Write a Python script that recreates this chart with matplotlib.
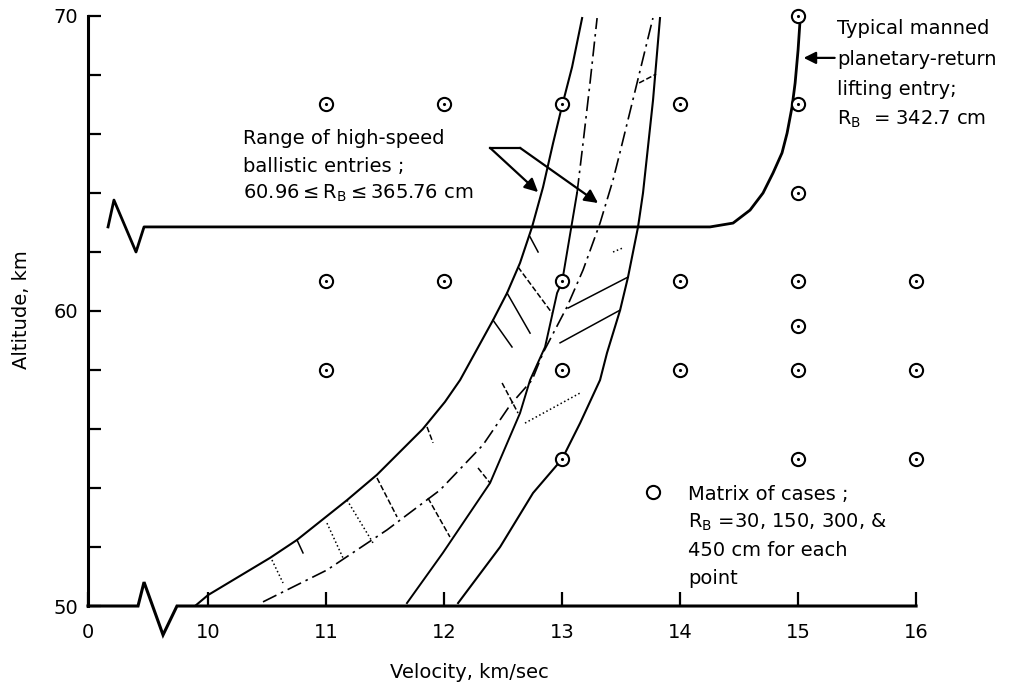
import numpy as np
import matplotlib.pyplot as plt

# ---- values: velocity in km/sec, altitude in km ----

# matrix of computed cases
case_v = [11, 11, 11, 12, 12, 13, 13, 13, 13, 14, 14, 14,
          15, 15, 15, 15, 15, 15, 15, 16, 16, 16]
case_alt = [67, 61, 58, 67, 61, 67, 61, 58, 55, 67, 61, 58,
            70, 67, 64, 61, 59.5, 58, 55, 61, 58, 55]

# ballistic entries, left solid boundary
left_v = [9.89, 10.0, 10.525, 10.754, 11.178, 11.432, 11.82, 12.008, 12.136,
          12.415, 12.534, 12.644, 12.746, 12.839, 12.924, 13.0, 13.085, 13.17]
left_alt = [50.0, 50.37, 51.63, 52.24, 53.59, 54.45, 56.0, 56.92, 57.66,
            59.69, 60.61, 61.63, 62.85, 64.2, 65.69, 66.95, 68.27, 69.93]

# middle boundary (through 13 km/sec, 61 km)
mid_v = [11.686, 11.99, 12.39, 12.644, 12.729, 12.856, 12.958, 13.0,
         13.127, 13.178, 13.237, 13.297]
mid_alt = [50.1, 51.8, 54.17, 56.54, 57.66, 58.78, 60.61, 60.98,
           64.0, 65.69, 67.73, 69.93]

# dash-dot boundary
dd_v = [10.466, 11.008, 11.517, 11.966, 12.33, 12.56, 12.746, 12.839,
        13.042, 13.178, 13.322, 13.432, 13.49, 13.6, 13.77]
dd_alt = [50.14, 51.22, 52.58, 53.93, 55.46, 56.81, 57.66, 58.58,
          60.14, 61.39, 62.98, 64.44, 65.36, 67.15, 69.93]

# right solid boundary
right_v = [12.119, 12.475, 12.754, 13.0, 13.153, 13.322, 13.381, 13.492,
           13.559, 13.644, 13.686, 13.771, 13.83]
right_alt = [50.1, 52.0, 53.83, 54.98, 56.2, 57.66, 58.58, 60.03,
             61.15, 62.85, 64.0, 67.15, 69.93]

# hatching inside the bands: start / end points
hatch_v0 = [12.729, 12.627, 12.534, 12.415, 12.492, 11.856, 12.288, 11.864,
            11.432, 11.178, 11.008, 10.754, 10.542,
            13.051, 12.983, 12.686, 13.432, 13.653]
hatch_a0 = [62.51, 61.49, 60.61, 59.69, 57.56, 56.07, 54.68, 53.66,
            54.34, 53.59, 52.81, 52.24, 51.56,
            60.1, 58.92, 56.2, 62.0, 67.73]
hatch_v1 = [12.797, 12.915, 12.729, 12.576, 12.627, 11.907, 12.39, 12.05,
            11.602, 11.398, 11.144, 10.805, 10.636,
            13.559, 13.492, 13.153, 13.517, 13.797]
hatch_a1 = [62.0, 59.93, 59.25, 58.78, 56.54, 55.53, 54.17, 52.34,
            53.02, 52.14, 51.63, 51.8, 50.78,
            61.15, 60.03, 57.22, 62.14, 68.03]
hatch_kind = ['-', '--', '-', '-', '--', '--', '--', '--',
              '--', ':', ':', '-', ':',
              '-', '-', ':', ':', '--']

# typical manned planetary-return lifting entry (with break symbol at left)
lift_v = [9.153, 9.203, 9.39, 9.458, 14.254, 14.449, 14.593, 14.703, 14.788,
          14.864, 14.907, 14.949, 14.975, 15.0, 15.017]
lift_alt = [62.85, 63.76, 62.0, 62.85, 62.85, 62.98, 63.42, 64.0, 64.68,
            65.36, 66.03, 66.92, 67.73, 68.85, 69.86]

# velocity axis with its break symbol
x_left = 8.983
axis_v = [x_left, 9.407, 9.458, 9.619, 9.737, 16.0]
axis_alt = [50, 50, 50.81, 49.02, 50, 50]

x_ticks = [x_left, 10, 11, 12, 13, 14, 15, 16]
x_labels = ['0', '10', '11', '12', '13', '14', '15', '16']
y_ticks = list(range(50, 71, 2))
y_labels = ['50' if t == 50 else '60' if t == 60 else '70' if t == 70 else ''
            for t in y_ticks]

plt.rcParams['font.family'] = ['DejaVu Sans']
fs = 14

fig = plt.figure(figsize=(10.23, 6.86), dpi=100)
ax = fig.add_axes([0.086, 0.1166, 0.8095, 0.8601])
ax.set_xlim(x_left, 16.0)
ax.set_ylim(50, 70)

for s in ['top', 'right', 'bottom']:
    ax.spines[s].set_visible(False)
ax.spines['left'].set_linewidth(2.2)

ax.set_xticks(x_ticks)
ax.set_xticklabels(x_labels, fontsize=fs)
ax.set_yticks(y_ticks)
ax.set_yticklabels(y_labels, fontsize=fs)
ax.tick_params(axis='x', direction='in', length=10, width=1.6, pad=12)
ax.tick_params(axis='y', direction='in', length=9, width=1.6, pad=7)

ax.plot(axis_v, axis_alt, color='k', lw=2.2, clip_on=False,
        solid_joinstyle='miter')

# lifting entry
ax.plot(lift_v, lift_alt, color='k', lw=2.0, clip_on=False)

# ballistic band boundaries
ax.plot(left_v, left_alt, color='k', lw=1.5)
mid_v = np.array(mid_v)
mid_alt = np.array(mid_alt)
low = mid_alt <= 64.0
ax.plot(mid_v[low], mid_alt[low], color='k', lw=1.4)
ax.plot(mid_v[mid_alt >= 64.0], mid_alt[mid_alt >= 64.0], color='k', lw=1.2,
        dashes=(9, 3, 1.5, 3))
ax.plot(dd_v, dd_alt, color='k', lw=1.2, dashes=(9, 3, 1.5, 3))
ax.plot(right_v, right_alt, color='k', lw=1.5)

for v0, a0, v1, a1, k in zip(hatch_v0, hatch_a0, hatch_v1, hatch_a1, hatch_kind):
    ax.plot([v0, v1], [a0, a1], color='k', lw=1.1, linestyle=k)

# matrix of cases
ax.plot(case_v, case_alt, 'o', ms=9.5, mfc='white', mec='k', mew=1.5,
        clip_on=False, zorder=5)
ax.plot(case_v, case_alt, '.', ms=2.5, color='k', clip_on=False, zorder=6)

# annotations
ax.text(10.30, 65.66, 'Range of high-speed', fontsize=fs)
ax.text(10.30, 64.71, 'ballistic entries ;', fontsize=fs)
ax.text(10.30, 63.80, r'60.96$\leq$R$_\mathregular{B}$$\leq$365.76 cm', fontsize=fs)
knot1 = (12.39, 65.53)
knot2 = (12.644, 65.53)
ax.plot([knot1[0], knot2[0]], [knot1[1], knot2[1]], color='k', lw=1.6)
ax.annotate('', xy=(12.797, 64.03), xytext=knot1,
            arrowprops=dict(arrowstyle='-|>', mutation_scale=20, lw=1.6,
                            color='k', shrinkA=0, shrinkB=0))
ax.annotate('', xy=(13.305, 63.66), xytext=knot2,
            arrowprops=dict(arrowstyle='-|>', mutation_scale=20, lw=1.6,
                            color='k', shrinkA=0, shrinkB=0))

ax.text(15.33, 69.39, 'Typical manned', fontsize=fs, clip_on=False)
ax.text(15.33, 68.34, 'planetary-return', fontsize=fs, clip_on=False)
ax.text(15.33, 67.32, 'lifting entry;', fontsize=fs, clip_on=False)
ax.text(15.33, 66.31, r'R$_\mathregular{B}$  = 342.7 cm', fontsize=fs, clip_on=False)
ax.annotate('', xy=(15.047, 68.58), xytext=(15.31, 68.58),
            arrowprops=dict(arrowstyle='-|>', mutation_scale=18, lw=1.6,
                            color='k', shrinkA=0, shrinkB=0))

ax.plot([13.771], [53.86], 'o', ms=9.5, mfc='white', mec='k', mew=1.5)
ax.text(14.07, 53.59, 'Matrix of cases ;', fontsize=fs)
ax.text(14.07, 52.64, r'R$_\mathregular{B}$ =30, 150, 300, &', fontsize=fs)
ax.text(14.07, 51.69, '450 cm for each', fontsize=fs)
ax.text(14.07, 50.75, 'point', fontsize=fs)

fig.text(22 / 1023, 1 - 310 / 686, 'Altitude, km', rotation=90,
         ha='center', va='center', fontsize=fs)
fig.text(469 / 1023, 1 - 673 / 686, 'Velocity, km/sec',
         ha='center', va='center', fontsize=fs)

fig.savefig('out.png', dpi=100)
